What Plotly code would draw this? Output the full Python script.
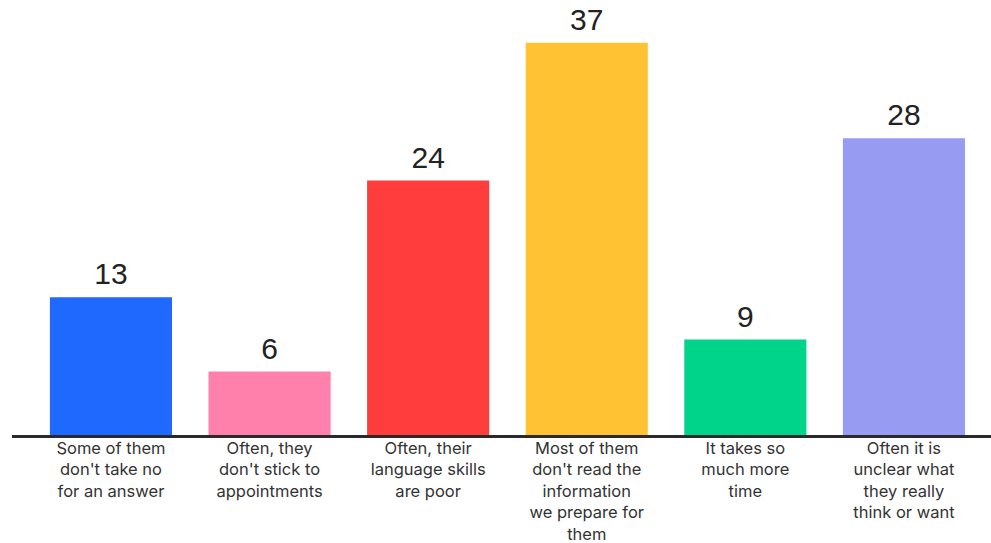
import plotly.graph_objects as go

categories = [
    "Some of them<br>don't take no<br>for an answer",
    "Often, they<br>don't stick to<br>appointments",
    "Often, their<br>language skills<br>are poor",
    "Most of them<br>don't read the<br>information<br>we prepare for<br>them",
    "It takes so<br>much more<br>time",
    "Often it is<br>unclear what<br>they really<br>think or want",
]
values = [13, 6, 24, 37, 9, 28]
colors = ["#1f69ff", "#ff80ab", "#ff3d3d", "#ffc233", "#00d48a", "#979cf2"]

xs = list(range(len(categories)))

fig = go.Figure()
fig.add_trace(
    go.Bar(
        x=xs,
        y=values,
        marker=dict(color=colors, line=dict(width=0)),
        width=0.77,
        hoverinfo="skip",
    )
)
fig.add_trace(
    go.Scatter(
        x=xs,
        y=values,
        mode="markers+text",
        marker=dict(size=7, opacity=0),
        text=[str(v) for v in values],
        textposition="top center",
        textfont=dict(family="Liberation Sans, Arial, sans-serif", size=30, color="#222222"),
        cliponaxis=False,
        hoverinfo="skip",
    )
)

fig.update_layout(
    width=991,
    height=543,
    margin=dict(l=12, r=0, t=0, b=108, autoexpand=False),
    paper_bgcolor="white",
    plot_bgcolor="white",
    showlegend=False,
    bargap=0.23,
    xaxis=dict(
        range=[-0.624, 5.549],
        tickmode="array",
        tickvals=xs,
        ticktext=categories,
        showline=True,
        linewidth=3,
        linecolor="#2a2a2a",
        showgrid=False,
        zeroline=False,
        ticks="",
        automargin=False,
        ticklabelstandoff=-4,
        tickfont=dict(family="Inter, sans-serif", size=16.5, color="#333333"),
        fixedrange=True,
    ),
    yaxis=dict(
        range=[0, 41.04],
        visible=False,
        showgrid=False,
        zeroline=False,
        fixedrange=True,
    ),
)

fig.write_html("out.html")
